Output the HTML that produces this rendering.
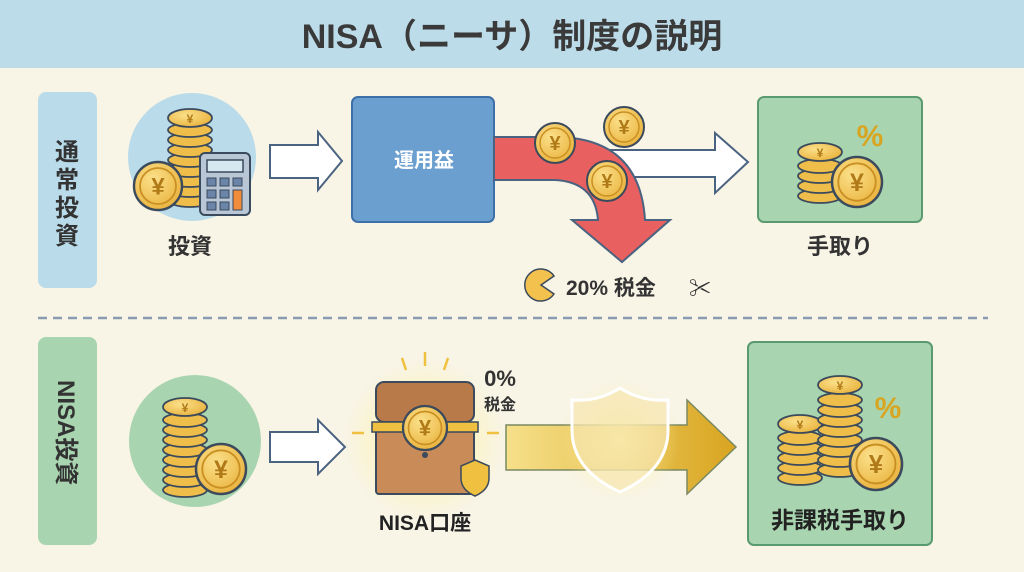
<!DOCTYPE html>
<html><head><meta charset="utf-8"><style>
html,body{margin:0;padding:0;width:1024px;height:572px;overflow:hidden;background:#f8f4e6}
svg text{font-family:"Liberation Sans","Noto Sans CJK JP",sans-serif;font-weight:bold}
</style></head><body>
<svg width="1024" height="572" viewBox="0 0 1024 572" xmlns="http://www.w3.org/2000/svg">
<defs>
<radialGradient id="cg" cx="40%" cy="35%" r="70%"><stop offset="0" stop-color="#fbe08a"/><stop offset="1" stop-color="#e9b23c"/></radialGradient>
<g id="coin"><circle r="20" fill="url(#cg)" stroke="#3b4a5c" stroke-width="2"/><circle r="15" fill="none" stroke="#c98f22" stroke-width="1.5"/><text y="7" text-anchor="middle" font-size="20" fill="#b07a18">¥</text></g>
<g id="disc"><ellipse rx="22" ry="7" fill="#efbe4a" stroke="#3b4a5c" stroke-width="1.8"/></g>
<g id="stacktop"><ellipse rx="22" ry="9" fill="url(#cg)" stroke="#3b4a5c" stroke-width="1.8"/><text y="5" text-anchor="middle" font-size="12" fill="#b07a18">¥</text></g>
<radialGradient id="glow" cx="50%" cy="50%" r="50%"><stop offset="0" stop-color="#fff3a0" stop-opacity="1"/><stop offset="1" stop-color="#fff3a0" stop-opacity="0"/></radialGradient>
<linearGradient id="gold" x1="0" x2="1"><stop offset="0" stop-color="#f6e08a"/><stop offset="1" stop-color="#d9a520"/></linearGradient>
</defs>
<rect x="0" y="0" width="1024" height="68" fill="#bcdcea"/>
<text x="512" y="48" text-anchor="middle" font-size="34" fill="#3a3a3a">NISA（ニーサ）制度の説明</text>

<!-- top row -->
<rect x="38" y="92" width="59" height="196" rx="8" fill="#b9dbea"/>
<text font-size="24" fill="#333" text-anchor="middle"><tspan x="67" y="160">通</tspan><tspan x="67" y="188">常</tspan><tspan x="67" y="216">投</tspan><tspan x="67" y="244">資</tspan></text>
<circle cx="192" cy="157" r="64" fill="#b9dbea"/>
<g transform="translate(190,0)">
<use href="#disc" y="200"/><use href="#disc" y="190"/><use href="#disc" y="180"/><use href="#disc" y="170"/><use href="#disc" y="160"/><use href="#disc" y="150"/><use href="#disc" y="140"/><use href="#disc" y="130"/><use href="#stacktop" y="118"/></g>
<rect x="200" y="153" width="50" height="62" rx="5" fill="#b8c6d6" stroke="#3b4a5c" stroke-width="2"/>
<rect x="207" y="160" width="36" height="12" fill="#d6e8f0" stroke="#3b4a5c" stroke-width="1.5"/>
<g fill="#6a85a8" stroke="#3b4a5c" stroke-width="1"><rect x="207" y="178" width="9" height="8"/><rect x="220" y="178" width="9" height="8"/><rect x="233" y="178" width="9" height="8"/><rect x="207" y="190" width="9" height="8"/><rect x="220" y="190" width="9" height="8"/><rect x="207" y="202" width="9" height="8"/><rect x="220" y="202" width="9" height="8"/></g>
<rect x="233" y="190" width="9" height="20" fill="#f08c3c" stroke="#3b4a5c"/>
<g transform="translate(158,186) scale(1.2)"><use href="#coin"/></g>
<text x="190" y="254" text-anchor="middle" font-size="22" fill="#333">投資</text>

<path d="M270,145 H318 V132 L342,161 L318,190 V178 H270 Z" fill="#fff" stroke="#4a6380" stroke-width="2"/>
<rect x="352" y="97" width="142" height="125" rx="6" fill="#6b9fd0" stroke="#3d6fa8" stroke-width="2"/>
<text x="424" y="167" text-anchor="middle" font-size="20" fill="#fff">運用益</text>

<path d="M610,150 H715 V133 L748,162 L715,193 V177 H610 Z" fill="#fff" stroke="#4a6380" stroke-width="2"/>
<path d="M494,137 H560 Q640,140 645,220 H670 L622,262 L572,220 H598 Q595,182 555,180 H494 Z" fill="#e86060" stroke="#4a6380" stroke-width="2"/>
<use href="#coin" x="555" y="143"/>
<use href="#coin" x="624" y="127"/>
<use href="#coin" x="607" y="181"/>
<path d="M541,285 L554,276 A16,16 0 1,0 554,294 Z" fill="#f2c14e" stroke="#3b4a5c" stroke-width="1.5"/>
<text x="566" y="295" font-size="21" fill="#333">20% 税金</text>
<text x="700" y="296" text-anchor="middle" font-size="22" fill="#333">✂</text>

<rect x="758" y="97" width="164" height="125" rx="6" fill="#a8d5b0" stroke="#5a9a70" stroke-width="2"/>
<g transform="translate(820,0)"><use href="#disc" y="196"/><use href="#disc" y="186"/><use href="#disc" y="176"/><use href="#disc" y="166"/><use href="#stacktop" y="152"/></g>
<g transform="translate(857,182) scale(1.25)"><use href="#coin"/></g>
<text x="870" y="146" text-anchor="middle" font-size="30" fill="#d9a520">%</text>
<text x="840" y="254" text-anchor="middle" font-size="22" fill="#333">手取り</text>

<line x1="38" y1="318" x2="988" y2="318" stroke="#8a9ab0" stroke-width="2.5" stroke-dasharray="9,6"/>

<!-- bottom row -->
<rect x="38" y="337" width="59" height="208" rx="8" fill="#a8d5b0"/>
<text transform="translate(58,380) rotate(90)" font-size="24" fill="#333">NISA投資</text>
<circle cx="195" cy="441" r="66" fill="#a8d5b0"/>
<g transform="translate(185,0)"><use href="#disc" y="490"/><use href="#disc" y="480"/><use href="#disc" y="470"/><use href="#disc" y="460"/><use href="#disc" y="450"/><use href="#disc" y="440"/><use href="#disc" y="430"/><use href="#disc" y="420"/><use href="#stacktop" y="407"/></g>
<g transform="translate(221,469) scale(1.25)"><use href="#coin"/></g>

<path d="M270,432 H318 V420 L345,447 L318,474 V462 H270 Z" fill="#fff" stroke="#4a6380" stroke-width="2"/>
<circle cx="425" cy="440" r="80" fill="url(#glow)"/>
<rect x="376" y="382" width="98" height="40" rx="8" fill="#b87a48" stroke="#3b4a5c" stroke-width="2"/>
<rect x="376" y="428" width="98" height="66" rx="3" fill="#c98c58" stroke="#3b4a5c" stroke-width="2"/>
<rect x="372" y="422" width="106" height="10" fill="#f0c040" stroke="#3b4a5c" stroke-width="1.5"/>
<g transform="translate(425,428) scale(1.1)"><use href="#coin"/></g>
<circle cx="425" cy="455" r="3" fill="#3b4a5c"/>
<path d="M475,460 l14,6 v12 q0,12 -14,18 q-14,-6 -14,-18 v-12 z" fill="#f0c040" stroke="#3b4a5c" stroke-width="1.5"/>
<g stroke="#f0c040" stroke-width="2.5"><line x1="425" y1="352" x2="425" y2="366"/><line x1="402" y1="358" x2="406" y2="370"/><line x1="448" y1="358" x2="444" y2="370"/><line x1="352" y1="433" x2="364" y2="433"/><line x1="487" y1="433" x2="499" y2="433"/></g>
<text x="500" y="386" text-anchor="middle" font-size="22" fill="#333">0%</text>
<text x="500" y="410" text-anchor="middle" font-size="16" fill="#333">税金</text>
<text x="425" y="530" text-anchor="middle" font-size="21" fill="#222">NISA口座</text>

<path d="M506,425 H687 V400 L736,447 L687,494 V470 H506 Z" fill="url(#gold)" stroke="#7a8a60" stroke-width="1.5"/>
<circle cx="620" cy="440" r="60" fill="url(#glow)" opacity="0.8"/>
<path d="M620,388 q22,14 48,12 v30 q0,40 -48,62 q-48,-22 -48,-62 v-30 q26,2 48,-12 z" fill="#f6e6b0" fill-opacity="0.7" stroke="#fff" stroke-width="3"/>

<rect x="748" y="342" width="184" height="203" rx="6" fill="#a8d5b0" stroke="#5a9a70" stroke-width="2"/>
<g transform="translate(800,0)"><use href="#disc" y="478"/><use href="#disc" y="468"/><use href="#disc" y="458"/><use href="#disc" y="448"/><use href="#disc" y="438"/><use href="#stacktop" y="424"/></g>
<g transform="translate(840,0)"><use href="#disc" y="470"/><use href="#disc" y="460"/><use href="#disc" y="450"/><use href="#disc" y="440"/><use href="#disc" y="430"/><use href="#disc" y="420"/><use href="#disc" y="410"/><use href="#disc" y="400"/><use href="#stacktop" y="385"/></g>
<g transform="translate(876,464) scale(1.3)"><use href="#coin"/></g>
<text x="888" y="418" text-anchor="middle" font-size="30" fill="#d9a520">%</text>
<text x="840" y="528" text-anchor="middle" font-size="23" fill="#222">非課税手取り</text>
</svg>
</body></html>
